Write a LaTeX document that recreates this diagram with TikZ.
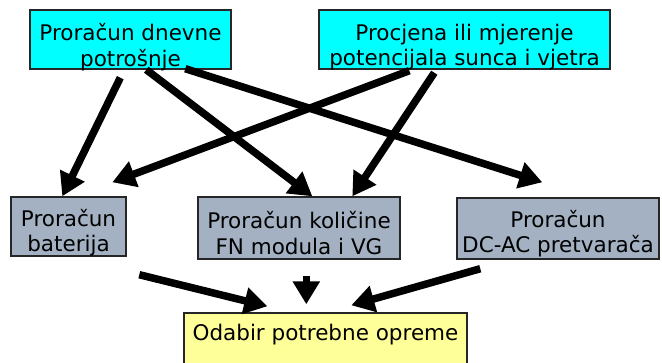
\documentclass[tikz,border=0pt]{standalone}
\usepackage{fontspec}
\setmainfont{DejaVu Sans}
\usetikzlibrary{arrows.meta,calc}
\definecolor{boxcyan}{HTML}{00FFFF}
\definecolor{boxgray}{HTML}{A3B1C2}
\definecolor{boxyellow}{HTML}{FFFF99}
\begin{document}
\begin{tikzpicture}[x=1pt,y=-1pt,
  box/.style={draw=black!85, line width=1.4pt, inner sep=0pt},
  txt/.style={inner sep=0pt, align=center, font=\fontsize{21.5}{25.5}\selectfont},
  bigarrow/.style={line width=7.5pt, -{Triangle[length=23pt,width=26pt]}}]
\useasboundingbox (0,0) rectangle (662,362);
\node[box, fill=boxcyan, minimum width=201pt, minimum height=59pt] (p1) at (130.5,39.5) {};
\node[box, fill=boxcyan, minimum width=291pt, minimum height=59pt] (p2) at (464.5,39.5) {};
\node[box, fill=boxgray, minimum width=115pt, minimum height=59pt] (p3) at (68.5,226.5) {};
\node[box, fill=boxgray, minimum width=202pt, minimum height=62pt] (p4) at (299,228) {};
\node[box, fill=boxgray, minimum width=202pt, minimum height=61pt] (p5) at (558,228.5) {};
\node[box, fill=boxyellow, minimum width=283pt, minimum height=60pt] (p6) at (325.5,343) {};
\node[txt] (p1t) at ([yshift=-7.5pt]p1.center) {Proračun dnevne\\potrošnje};
\node[txt] (p2t) at ([yshift=-7.5pt]p2.center) {Procjena ili mjerenje\\potencijala sunca i vjetra};
\node[txt] (p3t) at ([yshift=-6pt]p3.center) {Proračun\\baterija};
\node[txt] (p4t) at ([yshift=-5pt]p4.center) {Proračun količine\\FN modula i VG};
\node[txt] (p5t) at ([yshift=-5pt]p5.center) {Proračun\\DC-AC pretvarača};
\node[txt, anchor=base] (p6t) at (325.5,340) {Odabir potrebne opreme};
% connectors
\draw[bigarrow] ($(p1.south west)+(91,8)$) -- ($(p3.north west)+(52,0)$);
\draw[bigarrow] ($(p1.south west)+(117,0)$) -- ($(p4.north west)+(115,0)$);
\draw[bigarrow] ($(p1.south west)+(156,-1)$) -- ($(p5.north west)+(86,-15)$);
\draw[bigarrow] ($(p2.south west)+(91,1)$) -- ($(p3.north west)+(102,-14)$);
\draw[bigarrow] ($(p2.south west)+(116,3)$) -- ($(p4.north west)+(155,0)$);
\draw[bigarrow] ($(p3.south west)+(129,18)$) -- ($(p6.north west)+(84,-6)$);
\draw[bigarrow] ($(p4.south west)+(109,16)$) -- ($(p6.north west)+(123,-8)$);
\draw[bigarrow] ($(p5.south west)+(24,9)$) -- ($(p6.north west)+(168,-7)$);
\end{tikzpicture}
\end{document}
